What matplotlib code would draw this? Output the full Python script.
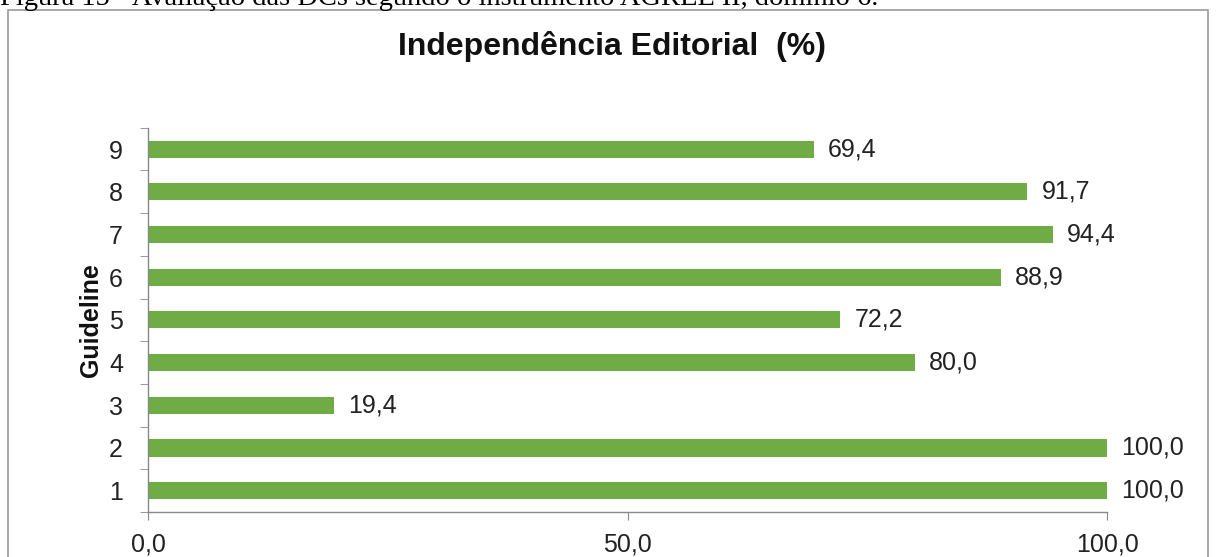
import matplotlib
matplotlib.use("Agg")
import matplotlib.pyplot as plt
from matplotlib.patches import Rectangle

categories = ["1", "2", "3", "4", "5", "6", "7", "8", "9"]
values = [100.0, 100.0, 19.4, 80.0, 72.2, 88.9, 94.4, 91.7, 69.4]
xticks = [0, 50, 100]
xticklabels = ["0,0", "50,0", "100,0"]
title = "Independência Editorial  (%)"
ylabel = "Guideline"
caption = "Figura 15 - Avaliação das DCs segundo o instrumento AGREE II, domínio 6."

W, H = 1216, 557
fig = plt.figure(figsize=(W / 100, H / 100), dpi=100)
plt.rcParams['font.family'] = ['Liberation Sans', 'DejaVu Sans']

ax = fig.add_axes([148 / W, 1 - 512 / H, (1107 - 148) / W, (512 - 127.8) / H])
pos = list(range(1, len(categories) + 1))
ax.barh(pos, values, height=0.4, color="#6FAC46", edgecolor="none")
ax.set_xlim(0, 100)
ax.set_ylim(0.5, len(categories) + 0.5)

for p, v in zip(pos, values):
    ax.annotate(f"{v:.1f}".replace(".", ","), xy=(v, p), xytext=(14, 0),
                textcoords="offset pixels", va="center", ha="left",
                fontsize=18, color="#222222")

ax.set_xticks(xticks)
ax.set_xticklabels(xticklabels, fontsize=18, color="#222222")
ax.set_yticks(pos)
ax.set_yticklabels(categories, fontsize=18, color="#222222")
ax.set_yticks([p - 0.5 for p in pos] + [len(categories) + 0.5], minor=True)
ax.tick_params(axis="y", which="major", length=0, pad=18)
ax.tick_params(axis="y", which="minor", length=6, color="#888888", direction="out")
ax.tick_params(axis="x", which="major", length=6, color="#888888", direction="out", pad=9)

for s in ["top", "right"]:
    ax.spines[s].set_visible(False)
for s in ["left", "bottom"]:
    ax.spines[s].set_color("#888888")
    ax.spines[s].set_linewidth(1.0)

ax.set_ylabel(ylabel, fontsize=18, fontweight="bold", labelpad=4, color="#111111")
fig.text(612 / W, 1 - 47 / H, title, ha="center", va="center",
         fontsize=23, fontweight="bold", color="#111111")

fig.patches.append(Rectangle((8 / W, -0.05), (1208 - 8) / W, 1 - 10 / H + 0.05,
                             transform=fig.transFigure, fill=False,
                             edgecolor="#999999", linewidth=1.2))
fig.text(0.0, 1 - 5 / H, caption, ha="left", va="baseline", fontsize=20.5,
         family=["Liberation Serif", "DejaVu Serif"], color="#000000")

fig.savefig("out.png", dpi=100)
